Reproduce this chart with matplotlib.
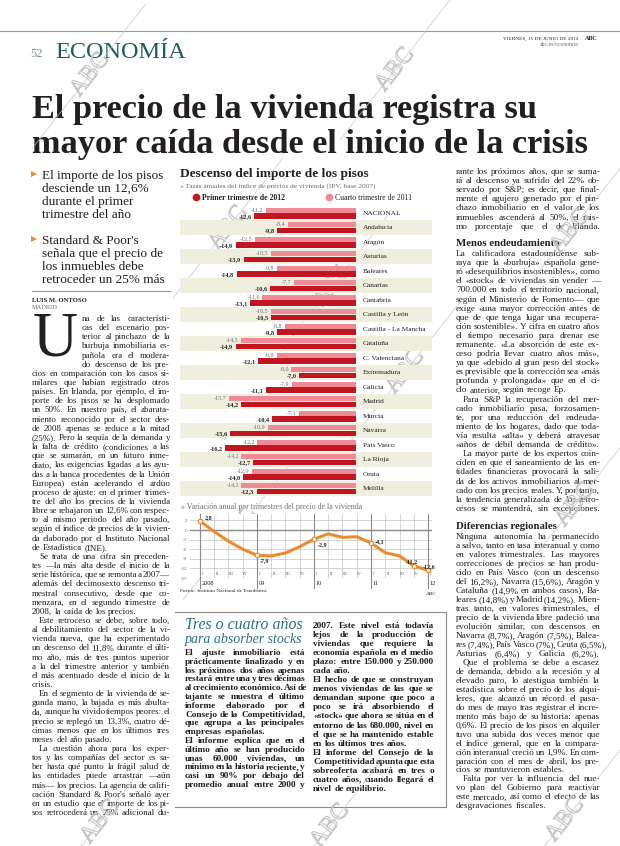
import matplotlib
matplotlib.use("Agg")
import matplotlib.pyplot as plt
import matplotlib.patheffects as pe
import numpy as np

W, H = 620, 846
SERIF = "Liberation Serif"
INK = "#231f20"
GREY = "#6d6e71"
TEAL = "#1f5f5b"
BLUE_T = "#2c6f86"
DARKRED = "#c1161f"
PINK = "#f08a94"
SHADE = "#efeedf"
ORANGE = "#ec8a2c"
WMARK = "#c4c4c4"

# ---- chart data -----------------------------------------------------------
regions = ["NACIONAL", "Andalucía", "Aragón", "Asturias", "Baleares", "Canarias",
           "Cantabria", "Castilla y León", "Castilla - La Mancha", "Cataluña",
           "C. Valenciana", "Extremadura", "Galicia", "Madrid", "Murcia", "Navarra",
           "País Vasco", "La Rioja", "Ceuta", "Melilla"]
q4_2011 = [-11.2, -8.4, -12.5, -10.5, -9.8, -7.7, -11.6, -10.5, -8.8, -14.3,
           -9.8, -8.0, -7.9, -15.7, -7.1, -10.9, -12.2, -14.2, -12.9, -14.2]
q1_2012 = [-12.6, -9.8, -14.9, -13.9, -14.8, -10.6, -13.1, -10.5, -9.8, -14.9,
           -12.1, -7.0, -11.1, -14.2, -10.4, -15.6, -16.2, -12.7, -14.0, -12.3]

quarters = ["I", "II", "III", "IV"] * 4 + ["I"]
years = ["2008", "09", "10", "11", "12"]
annual_var = [2.8, -0.5, -3.5, -6.0, -7.9, -8.1, -7.2, -5.2, -2.9, -1.2,
              -2.3, -2.1, -4.1, -7.1, -8.1, -11.2, -12.6]
labelled = [0, 4, 8, 12, 15, 16]
yticks = [3, 0, -3, -6, -9, -12, -15]

# ---- page text -------------------------------------------------------------
headline = ["El precio de la vivienda registra su",
            "mayor caída desde el inicio de la crisis"]
bullet1 = ["El importe de los pisos", "desciende un 12,6%", "durante el primer",
           "trimestre del año"]
bullet2 = ["Standard & Poor's", "señala que el precio de", "los inmuebles debe",
           "retroceder un 25% más"]

dropcap_lines = ["na de las característi-", "cas del escenario pos-",
                 "terior al pinchazo de la", "burbuja inmobiliaria es-",
                 "pañola era el modera-", "do descenso de los pre-"]
left_lines = [
    "cios en comparación con los casos si-",
    "milares que habían registrado otros",
    "países. En Irlanda, por ejemplo, el im-",
    "porte de los pisos se ha desplomado",
    "un 50%. En nuestro país, el abarata-",
    "miento reconocido por el sector des-",
    "de 2008 apenas se reduce a la mitad",
    "(25%). Pero la sequía de la demanda y",
    "la falta de crédito (condiciones a las",
    "que se sumarán, en un futuro inme-",
    "diato, las exigencias ligadas a las ayu-",
    "das a la banca procedentes de la Unión",
    "Europea) están acelerando el arduo",
    "proceso de ajuste: en el primer trimes-",
    "tre del año los precios de la vivienda",
    "libre se rebajaron un 12,6% con respec-",
    "to al mismo periodo del año pasado,",
    "según el índice de precios de la vivien-",
    "da elaborado por el Instituto Nacional",
    "de Estadística (INE).",
    ">Se trata de una cifra sin preceden-",
    "tes —la más alta desde el inicio de la",
    "serie histórica, que se remonta a 2007—",
    "además del decimosexto descenso tri-",
    "mestral consecutivo, desde que co-",
    "menzara, en el segundo trimestre de",
    "2008, la caída de los precios.",
    ">Este retroceso se debe, sobre todo,",
    "al debilitamiento del sector de la vi-",
    "vienda nueva, que ha experimentado",
    "un descenso del 11,8% durante el últi-",
    "mo año, más de tres puntos superior",
    "a la del trimestre anterior y también",
    "el más acentuado desde el inicio de la",
    "crisis.",
    ">En el segmento de la vivienda de se-",
    "gunda mano, la bajada es más abulta-",
    "da, aunque ha vivido tiempos peores: el",
    "precio se replegó un 13,3%, cuatro dé-",
    "cimas menos que en los últimos tres",
    "meses del año pasado.",
    ">La cuestión ahora para los exper-",
    "tos y las compañías del sector es sa-",
    "ber hasta qué punto la frágil salud de",
    "las entidades puede arrastrar —aún",
    "más— los precios. La agencia de califi-",
    "cación Standard & Poor's señaló ayer",
    "en un estudio que el importe de los pi-",
    "sos retrocederá un 25% adicional du-",
]

right_a = [
    "rante los próximos años, que se suma-",
    "rá al descenso ya sufrido del 22% ob-",
    "servado por S&P; es decir, que final-",
    "mente el agujero generado por el pin-",
    "chazo inmobiliario en el valor de los",
    "inmuebles ascenderá al 50%, el mis-",
    "mo porcentaje que el de Irlanda.",
]
right_b = [
    "La calificadora estadounidense sub-",
    "raya que la «burbuja» española gene-",
    "ró «desequilibrios insostenibles», como",
    "el «stock» de viviendas sin vender —",
    "700.000 en todo el territorio nacional,",
    "según el Ministerio de Fomento— que",
    "exige «una mayor corrección antes de",
    "que de que tenga lugar una recupera-",
    "ción sostenible». Y cifra en cuatro años",
    "el tiempo necesario para drenar ese",
    "remanente. «La absorción de este ex-",
    "ceso podría llevar cuatro años más»,",
    "ya que «debido al gran peso del stock»",
    "es previsible que la corrección sea «más",
    "profunda y prolongada» que en el ci-",
    "clo anterior, según recoge Ep.",
    ">Para S&P la recuperación del mer-",
    "cado inmobiliario pasa, forzosamen-",
    "te, por una reducción del endeuda-",
    "miento de los hogares, dado que toda-",
    "vía resulta «alta» y deberá atravesar",
    "«años de débil demanda de crédito».",
    ">La mayor parte de los expertos coin-",
    "ciden en que el saneamiento de las en-",
    "tidades financieras provocará la sali-",
    "da de los activos inmobiliarios al mer-",
    "cado con los precios reales. Y, por tanto,",
    "la tendencia generalizada de los retro-",
    "cesos se mantendrá, sin excepciones.",
]
right_c = [
    "Ninguna autonomía ha permanecido",
    "a salvo, tanto en tasa interanual y como",
    "en valores trimestrales. Las mayores",
    "correcciones de precios se han produ-",
    "cido en País Vasco (con un descenso",
    "del 16,2%), Navarra (15,6%), Aragón y",
    "Cataluña (14,9% en ambos casos), Ba-",
    "leares (14,8%) y Madrid (14,2%). Mien-",
    "tras tanto, en valores trimestrales, el",
    "precio de la vivienda libre padeció una",
    "evolución similar, con descensos en",
    "Navarra (8,7%), Aragón (7,5%), Balea-",
    "res (7,4%), País Vasco (7%), Ceuta (6,5%),",
    "Asturias (6,4%) y Galicia (6,2%).",
    ">Que el problema se debe a escasez",
    "de demanda, debido a la recesión y al",
    "elevado paro, lo atestigua también la",
    "estadística sobre el precio de los alqui-",
    "leres, que alcanzó un récord el pasa-",
    "do mes de mayo tras registrar el incre-",
    "mento más bajo de su historia: apenas",
    "0,6%. El precio de los pisos en alquiler",
    "tuvo una subida dos veces menor que",
    "el índice general, que en la compara-",
    "ción interanual creció un 1,9%. En com-",
    "paración con el mes de abril, los pre-",
    "cios se mantuvieron estables.",
    ">Falta por ver la influencia del nue-",
    "vo plan del Gobierno para reactivar",
    "este mercado, así como el efecto de las",
    "desgravaciones fiscales.",
]
box_left = [
    "El ajuste inmobiliario está",
    "prácticamente finalizado y en",
    "los próximos dos años apenas",
    "restará entre una y tres décimas",
    "al crecimiento económico. Así de",
    "tajante se muestra el último",
    "informe elaborado por el",
    "Consejo de la Competitividad,",
    "que agrupa a las principales",
    "empresas españolas.",
    "El informe explica que en el",
    "último año se han producido",
    "unas 60.000 viviendas, un",
    "mínimo en la historia reciente, y",
    "casi un 90% por debajo del",
    "promedio anual entre 2000 y",
]
box_right = [
    "2007. Este nivel está todavía",
    "lejos de la producción de",
    "viviendas que requiere la",
    "economía española en el medio",
    "plazo: entre 150.000 y 250.000",
    "cada año.",
    "El hecho de que se construyan",
    "menos viviendas de las que se",
    "demandan supone que poco a",
    "poco se irá absorbiendo el",
    "«stock» que ahora se sitúa en el",
    "entorno de las 680.000, nivel en",
    "el que se ha mantenido estable",
    "en los últimos tres años.",
    "El informe del Consejo de la",
    "Competitividad apunta que esta",
    "sobreoferta acabará en tres o",
    "cuatro años, cuando llegará el",
    "nivel de equilibrio.",
]

# ---- figure ----------------------------------------------------------------
fig = plt.figure(figsize=(W / 100, H / 100), dpi=100)
fig.patch.set_facecolor("white")
page = fig.add_axes([0, 0, 1, 1])
page.set_xlim(0, W)
page.set_ylim(H, 0)
page.axis("off")
R = fig.canvas.get_renderer()


def frame(x0, y0, x1, y1):
    return [x0 / W, 1 - y1 / H, (x1 - x0) / W, (y1 - y0) / H]


def width_of(t):
    return t.get_window_extent(R).width


def fit(x, y, s, width, **kw):
    t = page.text(x, y, s, fontsize=10, va="baseline", **kw)
    t.set_fontsize(10 * width / width_of(t))
    return t


def auto_size(lines, width, **kw):
    ws = []
    for ln in lines:
        t = page.text(0, 0, ln.lstrip(">"), fontsize=10, **kw)
        ws.append(width_of(t))
        t.remove()
    return 10 * width / np.percentile(ws, 80)


def column(lines, x0, x1, y0, dy, size, indent=7, **kw):
    # justified lines, word by word; short lines stay flush left
    for i, line in enumerate(lines):
        y = y0 + i * dy
        xs = x0
        if line.startswith(">"):
            line = line[1:]
            xs = x0 + indent
        words = line.split()
        objs = [page.text(0, y, w, fontsize=size, va="baseline", **kw) for w in words]
        ws = [width_of(o) for o in objs]
        space = size * 100 / 72 * 0.25
        natural = sum(ws) + space * (len(ws) - 1)
        avail = x1 - xs
        gap = space
        if len(ws) > 1 and natural > 0.8 * avail:
            gap = max((avail - sum(ws)) / (len(ws) - 1), space * 0.3)
        x = xs
        for o, w in zip(objs, ws):
            o.set_x(x)
            x += w + gap


# ---- masthead --------------------------------------------------------------
page.plot([0, W], [31, 31], color="#9a9a9a", lw=0.8)
page.text(30, 57, "52", fontsize=9, color="#7d8f8c", family=SERIF, va="baseline")
fit(55, 58, "ECONOMÍA", 131, color=TEAL, family=SERIF)
fit(503, 40, "VIERNES, 15 DE JUNIO DE 2012", 75, color=INK, family=SERIF)
fit(585, 40, "ABC", 13, color=INK, family=SERIF, weight="bold")
fit(540, 46, "abc.es/economia", 38, color=GREY, family=SERIF)

t1 = fit(32, 153, headline[1], 558, color=INK, family=SERIF, weight="bold")
page.text(32, 118, headline[0], fontsize=t1.get_fontsize(), color=INK,
          family=SERIF, weight="bold", va="baseline")

# ---- left column -----------------------------------------------------------
bsize = auto_size(bullet2, 122, family=SERIF)
for lines, y0 in ((bullet1, 178.5), (bullet2, 243.5)):
    page.plot(34, y0 - 4, marker=">", color=ORANGE, ms=5, mew=0)
    for i, ln in enumerate(lines):
        page.text(42, y0 + i * 13.2, ln, fontsize=bsize, color=INK, family=SERIF,
                  va="baseline")
page.plot([32, 170], [291, 291], color="#9a9a9a", lw=0.8)
page.text(32, 302, "LUIS M. ONTOSO", fontsize=4.8, weight="bold", color=INK,
          family=SERIF, va="baseline")
page.text(32, 309, "MADRID", fontsize=4.6, color=GREY, family=SERIF, va="baseline")
page.text(33, 356, "U", fontsize=45, color=INK, family=SERIF, va="baseline")

lsize = auto_size(left_lines, 138, family=SERIF)
column(dropcap_lines, 82, 170, 321, 9.15, lsize, family=SERIF, color=INK)
column(left_lines, 32, 170, 321 + 6 * 9.15, 9.15, lsize, family=SERIF, color=INK)

# ---- right column ----------------------------------------------------------
rsize = auto_size(right_b + right_c, 144, family=SERIF)
column(right_a, 456, 600, 174, 9.1, rsize, family=SERIF, color=INK)
fit(456, 246, "Menos endeudamiento", 104, family=SERIF, weight="bold", color=INK)
column(right_b, 456, 600, 256, 9.1, rsize, family=SERIF, color=INK)
fit(456, 529, "Diferencias regionales", 102, family=SERIF, weight="bold", color=INK)
column(right_c, 456, 600, 539, 8.98, rsize, family=SERIF, color=INK)

# ---- bar chart -------------------------------------------------------------
fit(180, 177, "Descenso del importe de los pisos", 188, family=SERIF,
    weight="bold", color=INK)
fit(180, 188, "» Tasas anuales del índice de precios de vivienda (IPV, base 2007)",
    196, family=SERIF, color=GREY)

axb = fig.add_axes(frame(180, 206, 432, 496))
n = len(regions)
pos = np.arange(n)
axb.set_xlim(-(355.7 - 180) / 8.05, (432 - 355.7) / 8.05)
axb.set_ylim(n - 0.5, -0.5)
axb.axis("off")
for i in range(1, n, 2):
    axb.axhspan(i - 0.5, i + 0.5, color=SHADE, lw=0, zorder=0)
axb.barh(pos - 0.2, q4_2011, height=0.34, color=PINK, zorder=2)
axb.barh(pos + 0.19, q1_2012, height=0.36, color=DARKRED, zorder=2)
for i, (a, b) in enumerate(zip(q4_2011, q1_2012)):
    axb.text(a - 0.3, i - 0.24, f"{a:.1f}".replace(".", ","), ha="right",
             va="center", fontsize=4.3, color=GREY, family=SERIF)
    axb.text(b - 0.3, i + 0.2, f"{b:.1f}".replace(".", ","), ha="right",
             va="center", fontsize=4.5, color=INK, family=SERIF, weight="bold")
    axb.text(0.9, i, regions[i], ha="left", va="center", fontsize=5.3,
             color=INK, family=SERIF)

# legend (above the bars)
page.plot(196, 197, "o", color=DARKRED, ms=4.5)
page.text(202, 199.5, "Primer trimestre de 2012", fontsize=5.6, weight="bold",
          color=INK, family=SERIF, va="baseline")
page.plot(329, 197, "o", color=PINK, ms=4.5)
page.text(335, 199.5, "Cuarto trimestre de 2011", fontsize=5.6, color=INK,
          family=SERIF, va="baseline")

# ---- line chart ------------------------------------------------------------
fit(181, 509, "» Variación anual por trimestres del precio de la vivienda", 180,
    family=SERIF, color=GREY)
axl = fig.add_axes(frame(190, 514, 432, 578))
x = np.arange(len(annual_var))
axl.set_xlim(-0.70, 16.28)
axl.set_ylim(-15, 5)
axl.set_yticks(yticks)
axl.set_yticklabels([str(v) for v in yticks], fontsize=3.6, color=GREY, family=SERIF)
axl.set_xticks(x)
axl.set_xticklabels([])
axl.tick_params(length=0, pad=2)
for s in axl.spines.values():
    s.set_visible(False)
axl.grid(color="#c4c4c4", lw=0.5)
axl.axhline(0, color="#8a8a8a", lw=1.0)
for i, q in enumerate(quarters):
    axl.text(i + 0.2, -13.6, q, fontsize=3.5, color=GREY, family=SERIF,
             ha="center", va="center", zorder=2)
axl.plot(x, annual_var, color=ORANGE, lw=2.2, solid_capstyle="round", zorder=3)
axl.plot(x[labelled], [annual_var[i] for i in labelled], "o", mfc="white",
         mec=ORANGE, ms=3.2, mew=0.9, zorder=4)
offsets = {0: (0.3, 1.0, "left"), 4: (0.2, -1.8, "left"), 8: (0.3, -1.6, "left"),
           12: (0.3, 0.6, "left"), 15: (-0.1, 1.3, "center"), 16: (0.1, 1.3, "center")}
for i, (dx, dy, ha) in offsets.items():
    axl.text(i + dx, annual_var[i] + dy, f"{annual_var[i]:.1f}".replace(".", ","),
             fontsize=4.3, weight="bold", color=INK, family=SERIF, ha=ha,
             va="center", zorder=5)
for k, yr in enumerate(years):
    axl.axvline(4 * k, color="#8a8a8a", lw=0.8, ymin=-0.15, ymax=1, clip_on=False)
    axl.text(4 * k + 0.12, -0.09, yr, transform=axl.get_xaxis_transform(),
             fontsize=4.6, color=INK, family=SERIF, va="center")

page.text(180, 592, "Fuente: Instituto Nacional de Estadística", fontsize=3.8,
          color=INK, family=SERIF, va="baseline")
page.text(426, 595, "ABC", fontsize=3.8, color=INK, family=SERIF, va="baseline")

# ---- box -------------------------------------------------------------------
page.plot([175, 446, 446, 175], [612, 612, 807, 807], color="#8a8a8a", lw=0.8)
fit(185, 629, "Tres o cuatro años", 118, family=SERIF, style="italic", color=BLUE_T)
fit(185, 643, "para absorber stocks", 118, family=SERIF, style="italic", color=BLUE_T)
xsize = auto_size(box_left + box_right, 120, family=SERIF, weight="bold")
column(box_left, 185, 305, 655, 8.8, xsize, family=SERIF, weight="bold", color=INK)
column(box_right, 313, 434, 628, 9.05, xsize, family=SERIF, weight="bold", color=INK)

# ---- watermarks (outline only) ---------------------------------------------
for wx, wy in [(90, 75), (395, 70), (228, 228), (333, 285), (405, 372),
               (238, 530), (570, 232), (575, 505), (100, 822), (330, 826), (565, 820)]:
    page.text(wx, wy, "ABC", fontsize=17, color=(1, 1, 1, 0), rotation=52,
              ha="center", va="center", family=SERIF, zorder=10,
              path_effects=[pe.Stroke(linewidth=0.8, foreground=WMARK)])
    page.plot([wx - 55, wx + 55], [wy + 70, wy - 70], color=WMARK, lw=0.6,
              alpha=0.8, zorder=9)

fig.savefig("out.png", dpi=100, facecolor="white")
